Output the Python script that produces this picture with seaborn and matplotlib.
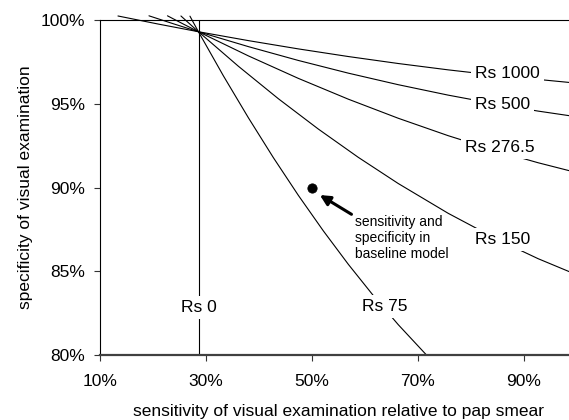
import matplotlib
matplotlib.use("Agg")
import matplotlib.pyplot as plt
import seaborn as sns
import pandas as pd
from matplotlib.ticker import FuncFormatter

# ---- data (percent units) ----
cost_labels = ["Rs 0", "Rs 75", "Rs 150", "Rs 276.5", "Rs 500", "Rs 1000"]

rs0_sens = [28.6, 28.6]
rs0_spec = [100.0, 80.0]

rs75_sens = [26.97, 27.82, 28.57, 33.28, 38.00, 42.71, 47.42, 52.14, 56.85, 61.57, 66.28, 71.60]
rs75_spec = [100.23, 99.735, 99.30, 96.667, 94.162, 91.783, 89.533, 87.410, 85.415, 83.549, 81.809, 80.0]

rs150_sens = [25.27, 27.06, 28.57, 36.11, 43.65, 51.20, 58.74, 66.28, 75.70, 85.13, 92.67, 100.0]
rs150_spec = [100.24, 99.729, 99.30, 97.239, 95.301, 93.488, 91.799, 90.236, 88.458, 86.875, 85.749, 84.784]

rs276_sens = [22.73, 25.74, 28.57, 38.00, 47.42, 56.85, 66.28, 75.70, 85.13, 92.67, 100.0]
rs276_spec = [100.25, 99.755, 99.30, 97.857, 96.515, 95.273, 94.133, 93.093, 92.155, 91.477, 90.886]

rs500_sens = [19.24, 23.86, 28.57, 38.00, 47.42, 56.85, 66.28, 75.70, 85.13, 92.67, 100.0]
rs500_spec = [100.25, 99.773, 99.30, 98.410, 97.585, 96.827, 96.137, 95.514, 94.958, 94.561, 94.220]

rs1000_sens = [13.39, 21.03, 28.57, 38.00, 47.42, 56.85, 66.28, 75.70, 85.13, 100.0]
rs1000_spec = [100.24, 99.755, 99.30, 98.769, 98.275, 97.819, 97.402, 97.023, 96.683, 96.227]

label_sens = [28.6, 63.73, 85.92, 85.41, 85.92, 86.87]
label_spec = [82.85, 82.88, 86.91, 92.40, 94.93, 96.82]

baseline_sens = [50.0]
baseline_spec = [90.0]
baseline_text = "sensitivity and\nspecificity in\nbaseline model"

x_ticks = [10, 30, 50, 70, 90]
y_ticks = [80, 85, 90, 95, 100]

series = [
    (rs0_sens, rs0_spec),
    (rs75_sens, rs75_spec),
    (rs150_sens, rs150_spec),
    (rs276_sens, rs276_spec),
    (rs500_sens, rs500_spec),
    (rs1000_sens, rs1000_spec),
]
rows = []
for lab, (xs, ys) in zip(cost_labels, series):
    for i, (x, y) in enumerate(zip(xs, ys)):
        rows.append({"cost": lab, "order": i, "sens": x, "spec": y})
df = pd.DataFrame(rows)

# ---- plot ----
sns.set_theme(style="white")
plt.rcParams["font.family"] = ["Liberation Sans", "DejaVu Sans"]

fig = plt.figure(figsize=(5.69, 4.20), dpi=100)
ax = fig.add_axes([100 / 569, 1 - 355 / 420, 477 / 569, 335 / 420])

sns.lineplot(data=df, x="sens", y="spec", units="cost", estimator=None,
             sort=False, color="black", linewidth=0.8, ax=ax, legend=False)
for ln in ax.lines:
    ln.set_clip_on(False)

sns.scatterplot(x=baseline_sens, y=baseline_spec, color="black", s=45,
                edgecolor="black", ax=ax, zorder=5)

for lab, x, y in zip(cost_labels, label_sens, label_spec):
    ax.text(x, y, lab, fontsize=12.5, ha="center", va="center", color="black",
            bbox=dict(boxstyle="square,pad=0.22", facecolor="white", edgecolor="none"),
            zorder=6)

ax.annotate("", xy=(51.48, 89.55), xytext=(57.45, 88.40),
            arrowprops=dict(arrowstyle="-|>", color="black", lw=2.2,
                            mutation_scale=15, shrinkA=0, shrinkB=0))
ax.text(58.08, 87.0, baseline_text, fontsize=10, ha="left", va="center",
        linespacing=1.2, color="black")

ax.set_xlim(10, 100)
ax.set_ylim(80, 100)
ax.set_xticks(x_ticks)
ax.set_yticks(y_ticks)
ax.xaxis.set_major_formatter(FuncFormatter(lambda v, p: f"{v:.0f}%"))
ax.yaxis.set_major_formatter(FuncFormatter(lambda v, p: f"{v:.0f}%"))
ax.tick_params(axis="both", which="major", direction="out", length=4,
               width=0.8, color="#333333", labelsize=12.5, labelcolor="black",
               bottom=True, left=True)
ax.tick_params(axis="x", pad=10)
ax.tick_params(axis="y", pad=7)

for s in ["left", "top", "right"]:
    ax.spines[s].set_color("black")
    ax.spines[s].set_linewidth(0.8)
ax.spines["right"].set_visible(False)
ax.spines["bottom"].set_color("#404040")
ax.spines["bottom"].set_linewidth(1.6)

ax.set_xlabel("sensitivity of visual examination relative to pap smear",
              fontsize=12.5, color="black")
ax.set_ylabel("specificity of visual examination", fontsize=12.5, color="black")
ax.xaxis.set_label_coords(0.5, -0.147)
ax.yaxis.set_label_coords(-0.14, 0.5)
ax.grid(False)

fig.savefig("out.png", dpi=100)
